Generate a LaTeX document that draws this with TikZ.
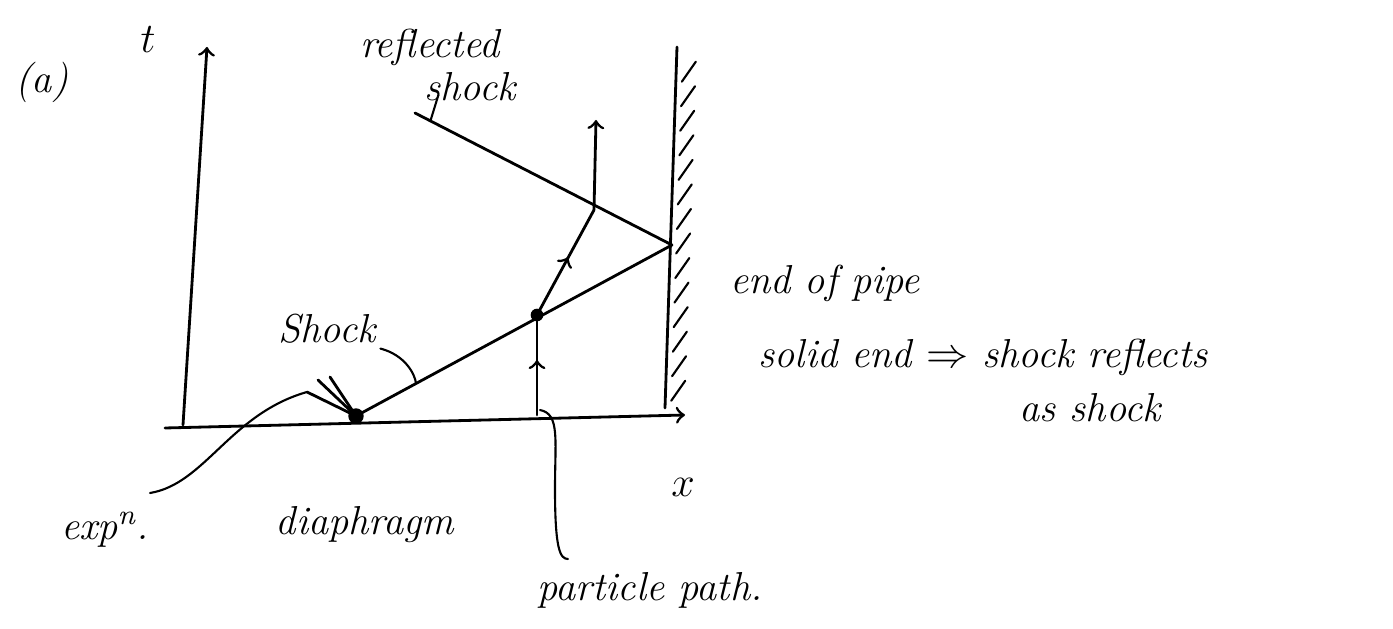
\documentclass[tikz,border=0pt]{standalone}
\usepackage{amsmath}
\usepackage{tikz}
\usetikzlibrary{calc,decorations.markings}
\tikzset{
  hand/.style={font=\itshape\fontsize{11.5}{14}\selectfont,inner sep=1pt},
  midarrow/.style={postaction={decorate},decoration={markings,mark=at position 0.55 with {\arrow{>}}}}
}

\begin{document}
\begin{tikzpicture}[thick,line cap=round]
\useasboundingbox (0,0) rectangle (13.93,6.29);
\coordinate (O) at (1.83,2.04);
\coordinate (ttop) at (2.07,5.82);
\coordinate (xl) at (1.65,2.01);
\coordinate (xr) at (6.85,2.14);
\coordinate (D) at (3.56,2.13);
\coordinate (W) at (6.72,3.84);
\coordinate (R) at (4.15,5.16);
\coordinate (wt) at (6.77,5.82);
\coordinate (wb) at (6.65,2.21);
\coordinate (P0) at (5.37,2.14);
\coordinate (P1) at (5.37,3.14);
\coordinate (P2) at (5.94,4.19);
\coordinate (P3) at (5.96,5.09);
\coordinate (f1) at (3.07,2.37);
\coordinate (f2) at (3.18,2.49);
\coordinate (f3) at (3.30,2.52);
\draw[->] (O) -- (ttop);
\draw[->] (xl) -- (xr);
\draw (wb) -- (wt);
\foreach \t in {0.02,0.088,...,0.95}
  \draw[semithick] ($(wb)!\t!(wt)+(0.06,0)$) -- ++(0.14,0.2);
\draw (D) -- (W);
\draw (W) -- (R);
\foreach \f in {f1,f2,f3}
  \draw (D) -- (\f);
\fill (D) circle (2.2pt);
\draw[midarrow] (P0) -- (P1);
\draw[midarrow] (P1) -- (P2);
\draw[->] (P2) -- (P3);
\fill (P1) circle (1.8pt);
\node[hand] (lbla) at (0.42,5.47) {(a)};
\node[hand] (lblt) at (1.48,5.89) {$t$};
\node[hand] (lblx) at (6.83,1.42) {$x$};
\node[hand] (refl) at (4.30,5.82) {reflected};
\node[hand] (rshock) at (4.70,5.42) {shock};
\node[hand] (shock) at (3.27,3.00) {Shock};
\node[hand] (endp) at (8.25,3.46) {end of pipe};
\node[hand] (solid) at (9.83,2.72) {solid end $\Rightarrow$ shock reflects};
\node[hand] (asshock) at (10.90,2.21) {as shock};
\node[hand] (expn) at (1.05,0.99) {exp\textsuperscript{n}.};
\node[hand] (diaph) at (3.65,1.04) {diaphragm};
\node[hand] (ppath) at (6.50,0.39) {particle path.};
\draw[semithick] ($(R)!0.06!(W)$) -- ++(0.08,0.26);
\draw[semithick] (shock.south east) .. controls (4.05,2.74) and (4.15,2.55) .. ($(D)!0.19!(W)$);
\draw[semithick] (1.50,1.36) .. controls (2.05,1.45) and (2.3,2.15) .. (f1);
\draw[semithick] (5.40,2.19) .. controls (5.6,2.15) and (5.55,1.9) .. (5.55,1.4)
  .. controls (5.55,0.8) and (5.6,0.7) .. (5.68,0.70);
\end{tikzpicture}
\end{document}
